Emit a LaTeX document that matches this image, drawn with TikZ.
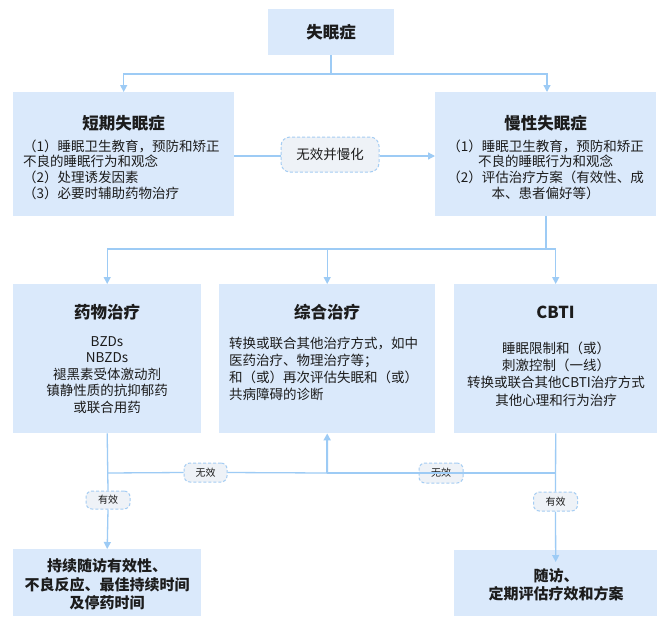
\documentclass[tikz,border=0pt]{standalone}
\usepackage{fontspec}
\setmainfont{Noto Sans CJK SC}
\usetikzlibrary{arrows.meta}
\definecolor{boxblue}{RGB}{218,233,251}
\definecolor{linkblue}{RGB}{157,203,245}
\definecolor{tagfill}{RGB}{238,242,247}
\definecolor{tagedge}{RGB}{165,205,243}
\definecolor{txt}{RGB}{28,28,28}
\begin{document}
\begin{tikzpicture}[x=1pt,y=-1pt,
 box/.style={fill=boxblue, draw=none, inner sep=0pt, anchor=north west},
 ttl/.style={font=\fontsize{16.5}{19}\selectfont\bfseries, text=txt, inner sep=0pt},
 outtxt/.style={font=\fontsize{15}{18.5}\selectfont\bfseries, text=txt, inner sep=0pt, align=center},
 body/.style={font=\fontsize{13.5}{16.5}\selectfont, text=txt, inner sep=0pt, align=center},
 conn/.style={draw=linkblue, line width=1.3pt},
 arr/.style={conn, -{Triangle[length=7pt,width=7pt]}},
 tag/.style={draw=tagedge, dash pattern=on 3pt off 2pt, fill=tagfill, rounded corners=6pt, line width=1pt, text=txt, inner sep=0pt, font=\fontsize{10}{12}\selectfont},
]
\useasboundingbox[fill=white] (0,0) rectangle (667,625);

% boxes
\node[box, minimum width=126pt, minimum height=46pt] (top) at (268,9) {};
\node[ttl] (topt) at (top.center) {失眠症};

\node[box, minimum width=221pt, minimum height=124pt] (dq) at (13,92) {};
\node[ttl] (dqt) at (123.5,123) {短期失眠症};
\node[body, align=left, anchor=west, font=\fontsize{13.5}{15.7}\selectfont] (dqb) at (23,169.5)
  {（1）睡眠卫生教育，预防和矫正\\不良的睡眠行为和观念\\（2）处理诱发因素\\（3）必要时辅助药物治疗};

\node[box, minimum width=221pt, minimum height=124pt] (mx) at (435,92) {};
\node[ttl] (mxt) at (545.5,123) {慢性失眠症};
\node[body, font=\fontsize{13.5}{15.7}\selectfont] (mxb) at (545.5,169.5)
  {（1）睡眠卫生教育，预防和矫正\\不良的睡眠行为和观念\\（2）评估治疗方案（有效性、成\\本、患者偏好等）};

\node[box, minimum width=188pt, minimum height=149pt] (yw) at (13,284) {};
\node[ttl] (ywt) at (107,312) {药物治疗};
\node[body] (ywb) at (107,375)
  {BZDs\\NBZDs\\褪黑素受体激动剂\\镇静性质的抗抑郁药\\或联合用药};

\node[box, minimum width=216pt, minimum height=149pt] (zh) at (219,284) {};
\node[ttl] (zht) at (327,312) {综合治疗};
\node[body, align=left, anchor=west, font=\fontsize{13.5}{17}\selectfont] (zhb) at (229,368.5)
  {转换或联合其他治疗方式，如中\\医药治疗、物理治疗等；\\和（或）再次评估失眠和（或）\\共病障碍的诊断};

\node[box, minimum width=203pt, minimum height=149pt] (cb) at (454,284) {};
\node[ttl] (cbt) at (555.5,312) {CBTI};
\node[body, font=\fontsize{13.5}{17.3}\selectfont] (cbb) at (556,374)
  {睡眠限制和（或）\\刺激控制（一线）\\转换或联合其他CBTI治疗方式\\其他心理和行为治疗};

\node[box, minimum width=188pt, minimum height=67pt] (o1) at (13,549) {};
\node[outtxt] (o1t) at (107,584.5) {持续随访有效性、\\不良反应、最佳持续时间\\及停药时间};

\node[box, minimum width=203pt, minimum height=66pt] (o2) at (454,550) {};
\node[outtxt] (o2t) at (556,585) {随访、\\定期评估疗效和方案};

% labels
\node[tag, minimum width=98pt, minimum height=35pt, rounded corners=9pt, font=\fontsize{13.5}{16}\selectfont] (lb) at (330,154.5) {无效并慢化};
\node[tag, minimum width=43pt, minimum height=19pt] (w1) at (205.5,472.5) {无效};
\node[tag, minimum width=44pt, minimum height=20pt] (w2) at (441,473) {无效};
\node[tag, minimum width=44pt, minimum height=18pt] (y1) at (108,500) {有效};
\node[tag, minimum width=44pt, minimum height=19pt] (y2) at (555.5,501.5) {有效};

% junctions
\coordinate (j1) at (331,74);
\coordinate (j2) at (546,249);
\coordinate (j3) at (327,473);

% connectors
\draw[conn] (top.south -| j1) -- (j1);
\draw[arr] (j1) -| (dq.north);
\draw[arr] (j1) -| (547,92);
\draw[conn] (dq.east |- 0,156) -- (lb.west |- 0,156);
\draw[arr] (lb.east |- 0,156) -- (mx.west |- 0,156);

\draw[conn] (mx.south -| j2) -- (j2);
\draw[arr] (j2) -| (yw.north);
\draw[arr] (j2) -| (cb.north);
\draw[arr] (zh.north |- j2) -- (zh.north);

\draw[conn] (yw.south) -- (y1.north);
\draw[arr] (y1.south) -- (o1.north);
\draw[conn] (yw.south |- j3) -- (w1.west);
\draw[conn] (w1.east) -- (j3);
\draw[arr, line width=2pt] (j3) -- (zh.south);

\draw[conn] (cb.south) -- (y2.north);
\draw[arr] (y2.south) -- ([yshift=-12pt]o2.north);
\draw[conn] (cb.south |- j3) -- (j3);
\end{tikzpicture}
\end{document}
